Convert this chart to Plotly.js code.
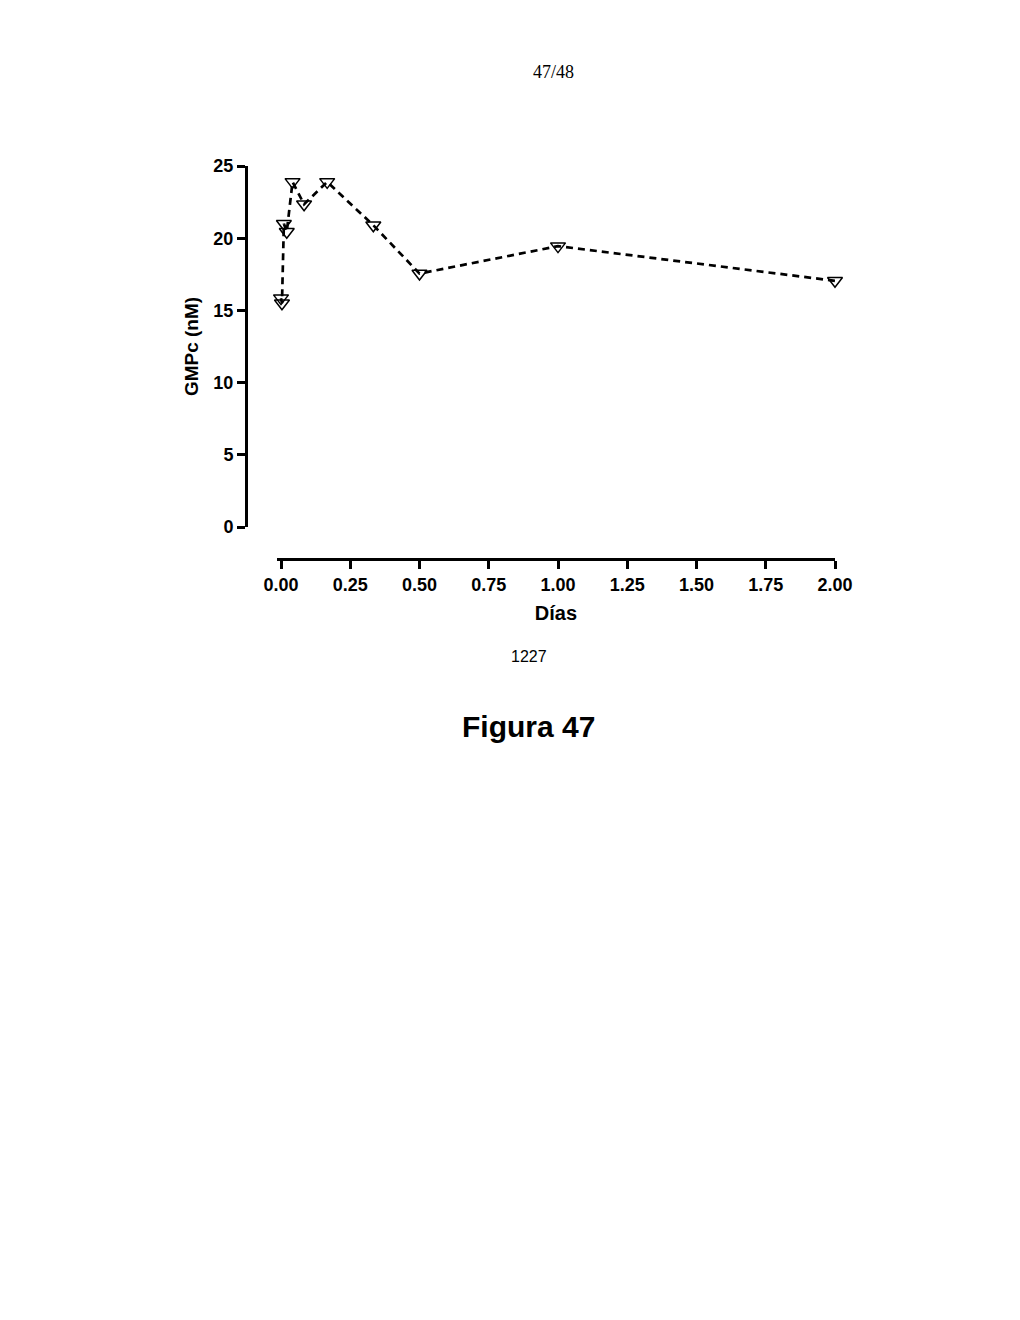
<!DOCTYPE html>
<html>
<head>
<meta charset="utf-8">
<script src="https://cdn.plot.ly/plotly-3.0.1.min.js"></script>
<style>
  html, body { margin: 0; padding: 0; background: #fff; }
  #chart { width: 1020px; height: 1320px; }
</style>
</head>
<body>
<div id="chart"></div>
<script>
// time points in days (0, 5 min, 15 min, 30 min, 1 h, 2 h, 4 h, 8 h, 12 h, 24 h, 48 h)
var dias = [0, 0.0035, 0.0104, 0.0208, 0.0417, 0.0833, 0.1667, 0.3333, 0.5, 1, 2];
var gmpc = [15.85, 15.5, 21.0, 20.45, 23.9, 22.35, 23.9, 20.9, 17.55, 19.45, 17.05];

var xTicks = [0, 0.25, 0.5, 0.75, 1, 1.25, 1.5, 1.75, 2];
var xTickText = ['0.00', '0.25', '0.50', '0.75', '1.00', '1.25', '1.50', '1.75', '2.00'];
var yTicks = [0, 5, 10, 15, 20, 25];

var axisFont = { family: 'Liberation Sans, Arial, sans-serif', size: 18, color: '#000', weight: 'bold' };

var data = [{
    type: 'scatter',
    mode: 'lines+markers',
    x: dias,
    y: gmpc,
    cliponaxis: false,
    line: { color: '#000', width: 2.7, dash: '7px,5px' },
    marker: {
        symbol: 'triangle-down-open',
        size: 13,
        color: '#000',
        line: { color: '#000', width: 1.5 }
    },
    hoverinfo: 'x+y',
    showlegend: false
}];

var layout = {
    width: 1020,
    height: 1320,
    paper_bgcolor: '#fff',
    plot_bgcolor: 'rgba(0,0,0,0)',
    margin: { l: 246, r: 185, t: 166, b: 761, autoexpand: false },
    xaxis: {
        domain: [0.0526, 1],
        range: [-0.0145, 2.0],
        anchor: 'free',
        position: 0,
        tickmode: 'array',
        tickvals: xTicks,
        ticktext: xTickText,
        ticks: 'outside',
        ticklen: 8,
        tickwidth: 3,
        tickcolor: '#000',
        showline: true,
        linewidth: 3,
        linecolor: '#000',
        showgrid: false,
        zeroline: false,
        tickfont: axisFont,
        title: { text: 'Días', font: { family: 'Liberation Sans, Arial, sans-serif', size: 20, color: '#000', weight: 'bold' }, standoff: 12 }
    },
    yaxis: {
        domain: [0.0814, 1],
        range: [0, 25],
        anchor: 'free',
        position: 0,
        tickmode: 'array',
        tickvals: yTicks,
        ticks: 'outside',
        ticklen: 8,
        tickwidth: 3,
        tickcolor: '#000',
        showline: true,
        linewidth: 3,
        linecolor: '#000',
        showgrid: false,
        zeroline: false,
        tickfont: axisFont,
        title: { text: 'GMPc (nM)', font: { family: 'Liberation Sans, Arial, sans-serif', size: 19, color: '#000', weight: 'bold' }, standoff: 8 }
    },
    annotations: [
        {
            text: '47/48', xref: 'paper', yref: 'paper', showarrow: false,
            x: (553 - 246) / 589, y: (559 - 72) / 393, xanchor: 'center', yanchor: 'middle',
            font: { family: 'Liberation Serif, Times New Roman, serif', size: 18, color: '#000' }
        },
        {
            text: '1227', xref: 'paper', yref: 'paper', showarrow: false,
            x: (529 - 246) / 589, y: (559 - 656) / 393, xanchor: 'center', yanchor: 'middle',
            font: { family: 'Liberation Sans, Arial, sans-serif', size: 16, color: '#000' }
        },
        {
            text: 'Figura 47', xref: 'paper', yref: 'paper', showarrow: false,
            x: (528 - 246) / 589, y: (559 - 726) / 393, xanchor: 'center', yanchor: 'middle',
            font: { family: 'Liberation Sans, Arial, sans-serif', size: 30, color: '#000', weight: 'bold' }
        }
    ],
    showlegend: false
};

Plotly.newPlot('chart', data, layout, { displayModeBar: false, staticPlot: true });
</script>
</body>
</html>
